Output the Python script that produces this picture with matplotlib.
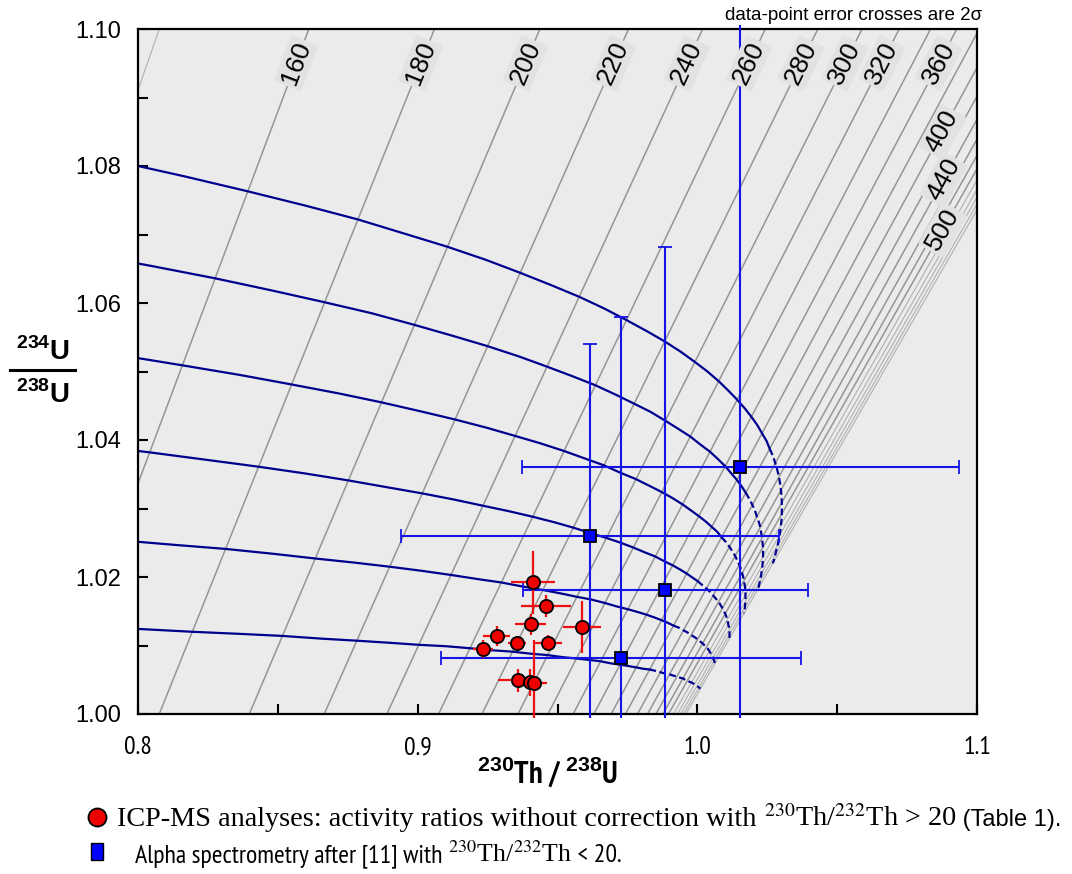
import numpy as np
import matplotlib
matplotlib.use("Agg")
import matplotlib.pyplot as plt
from matplotlib.ticker import MultipleLocator, FormatStrFormatter
from matplotlib.transforms import Bbox, TransformedBbox
from matplotlib.lines import Line2D
from matplotlib.patches import Rectangle

plt.rcParams["font.family"] = ["Liberation Sans", "DejaVu Sans"]
plt.rcParams["mathtext.fontset"] = "custom"
plt.rcParams["mathtext.rm"] = "Liberation Sans"
plt.rcParams["mathtext.bf"] = "Liberation Sans:bold"
NARROW = ["PT Sans Narrow", "Archivo Narrow", "Liberation Sans"]
SERIF = ["Liberation Serif", "DejaVu Serif"]

W, H = 1072, 874

# isochrons (ka): 230Th/238U where each line meets 234U/238U = 1.00 and 1.10
iso_age = [140, 160, 180, 200, 220, 240, 260, 280, 300, 320, 340, 360,
           380, 400, 420, 440, 460, 480, 500, 520, 540, 560, 580, 600]
iso_x_at_100 = [0.7225, 0.7690, 0.8076, 0.8398, 0.8666, 0.8890, 0.9075, 0.9230,
                0.9359, 0.9466, 0.9556, 0.9630, 0.9692, 0.9743, 0.9786, 0.9822,
                0.9852, 0.9877, 0.9897, 0.9915, 0.9929, 0.9941, 0.9951, 0.9959]
iso_x_at_110 = [0.8076, 0.8611, 0.9060, 0.9437, 0.9754, 1.0019, 1.0243, 1.0431,
                1.0589, 1.0722, 1.0834, 1.0928, 1.1008, 1.1075, 1.1132, 1.1179,
                1.1220, 1.1254, 1.1283, 1.1307, 1.1328, 1.1345, 1.1360, 1.1373]

# labelled isochrons and the 234U/238U height of each label
lab_age = [160, 180, 200, 220, 240, 260, 280, 300, 320, 360, 400, 440, 500]
lab_y = [1.095] * 10 + [1.085, 1.078, 1.0707]

# evolution curves (initial 234U/238U = 1.02 ... 1.12), sampled every 10 ka;
# dashed from 400 ka on
curve_age = list(range(140, 601, 10))
cx_102 = [0.7340, 0.7584, 0.7807, 0.8010, 0.8195, 0.8363, 0.8516, 0.8656, 0.8783, 0.8899,
          0.9004, 0.9100, 0.9187, 0.9267, 0.9339, 0.9405, 0.9464, 0.9519, 0.9568, 0.9613,
          0.9653, 0.9690, 0.9724, 0.9754, 0.9782, 0.9807, 0.9829, 0.9850, 0.9868, 0.9885,
          0.9900, 0.9914, 0.9926, 0.9938, 0.9948, 0.9957, 0.9965, 0.9972, 0.9979, 0.9984,
          0.9990, 0.9994, 0.9998, 1.0002, 1.0005, 1.0008, 1.0011]
cy_102 = [1.0135, 1.0131, 1.0127, 1.0124, 1.0120, 1.0117, 1.0114, 1.0110, 1.0107, 1.0104,
          1.0101, 1.0099, 1.0096, 1.0093, 1.0091, 1.0088, 1.0086, 1.0083, 1.0081, 1.0079,
          1.0077, 1.0074, 1.0072, 1.0070, 1.0068, 1.0066, 1.0065, 1.0063, 1.0061, 1.0059,
          1.0058, 1.0056, 1.0055, 1.0053, 1.0052, 1.0050, 1.0049, 1.0047, 1.0046, 1.0045,
          1.0043, 1.0042, 1.0041, 1.0040, 1.0039, 1.0038, 1.0037]
cx_104 = [0.7454, 0.7700, 0.7924, 0.8128, 0.8313, 0.8481, 0.8634, 0.8774, 0.8900, 0.9015,
          0.9119, 0.9214, 0.9299, 0.9377, 0.9448, 0.9512, 0.9570, 0.9622, 0.9670, 0.9712,
          0.9751, 0.9786, 0.9818, 0.9846, 0.9872, 0.9895, 0.9915, 0.9934, 0.9951, 0.9965,
          0.9979, 0.9991, 1.0001, 1.0010, 1.0019, 1.0026, 1.0032, 1.0038, 1.0043, 1.0047,
          1.0050, 1.0054, 1.0056, 1.0058, 1.0060, 1.0062, 1.0063]
cy_104 = [1.0269, 1.0262, 1.0254, 1.0247, 1.0241, 1.0234, 1.0227, 1.0221, 1.0215, 1.0209,
          1.0203, 1.0197, 1.0192, 1.0186, 1.0181, 1.0176, 1.0171, 1.0167, 1.0162, 1.0157,
          1.0153, 1.0149, 1.0145, 1.0141, 1.0137, 1.0133, 1.0129, 1.0126, 1.0122, 1.0119,
          1.0115, 1.0112, 1.0109, 1.0106, 1.0103, 1.0100, 1.0097, 1.0095, 1.0092, 1.0089,
          1.0087, 1.0085, 1.0082, 1.0080, 1.0078, 1.0075, 1.0073]
cx_106 = [0.7569, 0.7816, 0.8041, 0.8246, 0.8431, 0.8600, 0.8752, 0.8891, 0.9017, 0.9131,
          0.9234, 0.9327, 0.9411, 0.9488, 0.9557, 0.9619, 0.9675, 0.9726, 0.9771, 0.9812,
          0.9849, 0.9882, 0.9912, 0.9938, 0.9962, 0.9983, 1.0001, 1.0018, 1.0033, 1.0046,
          1.0057, 1.0067, 1.0076, 1.0083, 1.0089, 1.0095, 1.0100, 1.0104, 1.0107, 1.0109,
          1.0111, 1.0113, 1.0114, 1.0115, 1.0115, 1.0115, 1.0115]
cy_106 = [1.0404, 1.0393, 1.0382, 1.0371, 1.0361, 1.0351, 1.0341, 1.0331, 1.0322, 1.0313,
          1.0304, 1.0296, 1.0288, 1.0280, 1.0272, 1.0264, 1.0257, 1.0250, 1.0243, 1.0236,
          1.0230, 1.0223, 1.0217, 1.0211, 1.0205, 1.0199, 1.0194, 1.0188, 1.0183, 1.0178,
          1.0173, 1.0168, 1.0164, 1.0159, 1.0155, 1.0150, 1.0146, 1.0142, 1.0138, 1.0134,
          1.0130, 1.0127, 1.0123, 1.0120, 1.0116, 1.0113, 1.0110]
cx_108 = [0.7683, 0.7933, 0.8159, 0.8364, 0.8550, 0.8718, 0.8870, 0.9009, 0.9133, 0.9246,
          0.9348, 0.9440, 0.9523, 0.9598, 0.9666, 0.9726, 0.9780, 0.9829, 0.9873, 0.9912,
          0.9947, 0.9978, 1.0005, 1.0030, 1.0052, 1.0071, 1.0087, 1.0102, 1.0115, 1.0126,
          1.0135, 1.0143, 1.0150, 1.0156, 1.0160, 1.0164, 1.0167, 1.0169, 1.0171, 1.0172,
          1.0172, 1.0172, 1.0172, 1.0171, 1.0170, 1.0168, 1.0166]
cy_108 = [1.0539, 1.0524, 1.0509, 1.0495, 1.0481, 1.0468, 1.0455, 1.0442, 1.0430, 1.0418,
          1.0406, 1.0395, 1.0384, 1.0373, 1.0363, 1.0352, 1.0343, 1.0333, 1.0324, 1.0315,
          1.0306, 1.0297, 1.0289, 1.0281, 1.0273, 1.0266, 1.0258, 1.0251, 1.0244, 1.0237,
          1.0231, 1.0224, 1.0218, 1.0212, 1.0206, 1.0200, 1.0195, 1.0189, 1.0184, 1.0179,
          1.0174, 1.0169, 1.0164, 1.0160, 1.0155, 1.0151, 1.0147]
cx_110 = [0.7798, 0.8049, 0.8276, 0.8482, 0.8668, 0.8836, 0.8989, 0.9126, 0.9250, 0.9362,
          0.9463, 0.9554, 0.9635, 0.9709, 0.9774, 0.9833, 0.9886, 0.9933, 0.9975, 1.0012,
          1.0045, 1.0074, 1.0099, 1.0122, 1.0141, 1.0159, 1.0173, 1.0186, 1.0197, 1.0206,
          1.0213, 1.0220, 1.0225, 1.0228, 1.0231, 1.0233, 1.0235, 1.0235, 1.0235, 1.0234,
          1.0233, 1.0231, 1.0229, 1.0227, 1.0224, 1.0221, 1.0218]
cy_110 = [1.0673, 1.0654, 1.0636, 1.0618, 1.0601, 1.0585, 1.0568, 1.0552, 1.0537, 1.0522,
          1.0507, 1.0493, 1.0480, 1.0466, 1.0453, 1.0441, 1.0428, 1.0416, 1.0405, 1.0393,
          1.0383, 1.0372, 1.0362, 1.0351, 1.0342, 1.0332, 1.0323, 1.0314, 1.0305, 1.0297,
          1.0288, 1.0280, 1.0273, 1.0265, 1.0258, 1.0250, 1.0243, 1.0237, 1.0230, 1.0224,
          1.0217, 1.0211, 1.0205, 1.0200, 1.0194, 1.0189, 1.0183]
cx_112 = [0.7912, 0.8165, 0.8393, 0.8600, 0.8786, 0.8955, 0.9107, 0.9244, 0.9367, 0.9478,
          0.9578, 0.9667, 0.9747, 0.9819, 0.9883, 0.9940, 0.9991, 1.0036, 1.0076, 1.0111,
          1.0142, 1.0170, 1.0193, 1.0214, 1.0231, 1.0247, 1.0259, 1.0270, 1.0279, 1.0286,
          1.0292, 1.0296, 1.0299, 1.0301, 1.0302, 1.0302, 1.0302, 1.0301, 1.0299, 1.0297,
          1.0294, 1.0291, 1.0287, 1.0283, 1.0279, 1.0275, 1.0270]
cy_112 = [1.0808, 1.0785, 1.0763, 1.0742, 1.0722, 1.0701, 1.0682, 1.0663, 1.0644, 1.0626,
          1.0609, 1.0592, 1.0575, 1.0559, 1.0544, 1.0529, 1.0514, 1.0500, 1.0486, 1.0472,
          1.0459, 1.0446, 1.0434, 1.0422, 1.0410, 1.0399, 1.0387, 1.0377, 1.0366, 1.0356,
          1.0346, 1.0336, 1.0327, 1.0318, 1.0309, 1.0300, 1.0292, 1.0284, 1.0276, 1.0268,
          1.0261, 1.0254, 1.0246, 1.0240, 1.0233, 1.0226, 1.0220]
curves = [(cx_102, cy_102), (cx_104, cy_104), (cx_106, cy_106),
          (cx_108, cy_108), (cx_110, cy_110), (cx_112, cy_112)]

# ICP-MS analyses (2 sigma)
icp_x = [0.9412, 0.9459, 0.9404, 0.9587, 0.9283, 0.9356, 0.9466, 0.9235, 0.9357, 0.9402, 0.9417]
icp_y = [1.0192, 1.0158, 1.0131, 1.0127, 1.0114, 1.0103, 1.0104, 1.0095, 1.0049, 1.0046, 1.0045]
icp_xerr = [0.0080, 0.0091, 0.0055, 0.0067, 0.0048, 0.0033, 0.0050, 0.0036, 0.0069, 0.0040, 0.0047]
icp_yerr = [0.0046, 0.0016, 0.0015, 0.0038, 0.0014, 0.0011, 0.0012, 0.0013, 0.0017, 0.0020, 0.0063]

# alpha spectrometry (2 sigma)
alp_x = [1.0154, 0.9617, 0.9886, 0.9728]
alp_y = [1.0360, 1.0260, 1.0181, 1.0082]
alp_xerr = [0.0781, 0.0676, 0.0510, 0.0644]
alp_yerr = [0.0700, 0.0280, 0.0501, 0.0498]


def fpos(x, y):
    return x / W, 1 - y / H


fig = plt.figure(figsize=(W / 100, H / 100), dpi=100)
ax = fig.add_axes([138 / W, 1 - 714 / H, 839 / W, 685 / H])
ax.set_facecolor("#ebebeb")
ax.set_xlim(0.8, 1.1)
ax.set_ylim(1.0, 1.1)

for a, x0, x1 in zip(iso_age, iso_x_at_100, iso_x_at_110):
    light = a == 140 or a > 500
    ax.plot([x0, x1], [1.0, 1.1], color="#b0b0b0" if light else "#959595",
            lw=0.8 if light else 1.1, zorder=1)

split = curve_age.index(400)
for cx, cy in curves:
    ax.plot(cx[:split + 1], cy[:split + 1], color="#00008f", lw=1.6, zorder=2)
    ax.plot(cx[split:], cy[split:], color="#00008f", lw=1.6, ls=(0, (3, 1.6)), zorder=2)

clip = TransformedBbox(Bbox([[0, -0.006], [1, 1.006]]), ax.transAxes)

eb = ax.errorbar(alp_x, alp_y, xerr=alp_xerr, yerr=alp_yerr, fmt="s", ms=9,
                 mfc="#0000ff", mec="black", mew=1.3, ecolor="#1414e6",
                 elinewidth=1.5, capsize=5, capthick=1.5, zorder=4)
eb2 = ax.errorbar(icp_x, icp_y, xerr=icp_xerr, yerr=icp_yerr, fmt="o", ms=9.5,
                  mfc="#ee0000", mec="black", mew=1.3, ecolor="#ee1111",
                  elinewidth=1.6, capsize=0, zorder=5)
for e in (eb, eb2):
    for art in list(e[1]) + list(e[2]):
        art.set_clip_box(clip)

# isochron age labels, turned along their lines
for a, ly in zip(lab_age, lab_y):
    i = iso_age.index(a)
    x0, x1 = iso_x_at_100[i], iso_x_at_110[i]
    lx = x0 + (x1 - x0) * (ly - 1.0) / 0.1
    p0 = ax.transData.transform((x0, 1.0))
    p1 = ax.transData.transform((x1, 1.1))
    ang = np.degrees(np.arctan2(p1[1] - p0[1], p1[0] - p0[0]))
    ax.text(lx, ly, str(a), rotation=ang, rotation_mode="anchor", ha="center",
            va="center", fontsize=19, zorder=6,
            bbox=dict(boxstyle="round,pad=0.1", fc="#e2e2e2", ec="none"))

ax.xaxis.set_major_locator(MultipleLocator(0.1))
ax.xaxis.set_minor_locator(MultipleLocator(0.05))
ax.yaxis.set_major_locator(MultipleLocator(0.02))
ax.yaxis.set_minor_locator(MultipleLocator(0.01))
ax.xaxis.set_major_formatter(FormatStrFormatter("%.1f"))
ax.yaxis.set_major_formatter(FormatStrFormatter("%.2f"))
ax.tick_params(which="both", direction="in", length=7, width=1.5,
               top=False, right=False)
ax.tick_params(axis="x", pad=16, labelsize=18.5)
ax.tick_params(axis="y", pad=12, labelsize=17)
for lab in ax.get_xticklabels():
    lab.set_family(NARROW)
for sp in ax.spines.values():
    sp.set_linewidth(1.6)

# axis titles
fig.text(*fpos(548, 772), r"$^{\mathbf{230}}$Th / $^{\mathbf{238}}$U", ha="center",
         va="center", fontsize=22, fontweight="bold", family=NARROW)
fig.text(*fpos(43, 352), r"$^{\mathbf{234}}$U", ha="center", va="center",
         fontsize=20, fontweight="bold")
fig.text(*fpos(43, 395), r"$^{\mathbf{238}}$U", ha="center", va="center",
         fontsize=20, fontweight="bold")
fig.add_artist(Line2D([10 / W, 75 / W], [1 - 370 / H] * 2, color="black", lw=2.2))

fig.text(*fpos(982, 15), "data-point error crosses are 2σ", ha="right",
         va="center", fontsize=13.5)

# key below the chart
fig.add_artist(Line2D([97 / W], [1 - 817 / H], marker="o", ms=13, mfc="#ee0000",
                      mec="black", mew=1.3))
fig.add_artist(Rectangle(fpos(91, 860), 12 / W, 17 / H, fc="#0000ff", ec="black", lw=1.0))


def text_row(x, y, parts):
    r = fig.canvas.get_renderer()
    for s, kw in parts:
        t = fig.text(x / W, 1 - y / H, s, va="baseline", ha="left", **kw)
        x = t.get_window_extent(r).x1


text_row(117, 826, [
    ("ICP-MS analyses: activity ratios without correction with ", dict(family=SERIF, fontsize=20.3)),
    (r"$^{230}$Th/$^{232}$Th > 20", dict(family=SERIF, fontsize=20.3, math_fontfamily="stix")),
    (" (Table 1).", dict(fontsize=17)),
])
text_row(135, 862, [
    ("Alpha spectrometry after [11] with ", dict(family=NARROW, fontsize=18.6)),
    (r"$^{230}$Th/$^{232}$Th", dict(family=SERIF, fontsize=18.6, math_fontfamily="stix")),
    (" < 20.", dict(family=NARROW, fontsize=18.6)),
])

fig.savefig("out.png", dpi=100)
